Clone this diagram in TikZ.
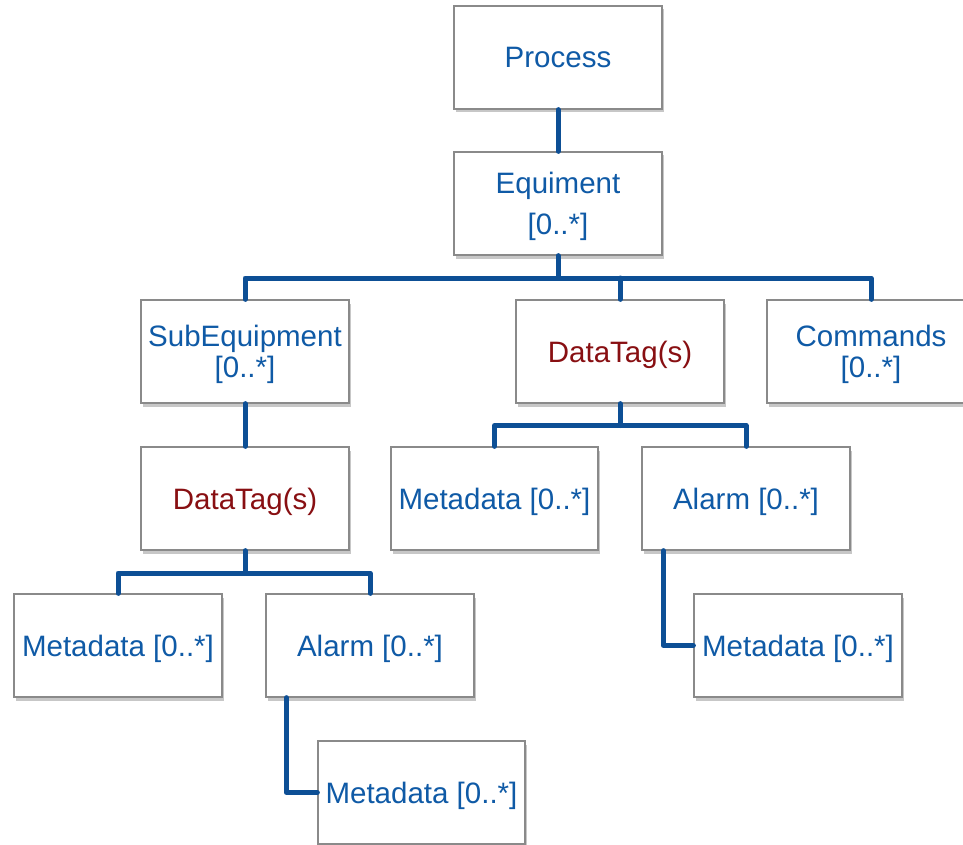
\documentclass[tikz,border=0pt]{standalone}
\usepackage{fontspec}
\setmainfont{Liberation Sans}
\usetikzlibrary{shadows}
\definecolor{conncol}{HTML}{0D4F95}
\definecolor{txtblue}{HTML}{0F5AA6}
\definecolor{txtred}{HTML}{880F12}
\definecolor{boxline}{HTML}{8A8A8A}
\begin{document}
\begin{tikzpicture}[x=1pt,y=-1pt,
  box/.style={draw=boxline, line width=1.3pt, fill=white, minimum width=208pt, minimum height=103pt,
    inner sep=0pt, align=center, text=txtblue, font=\fontsize{29.5}{31.5}\selectfont, text depth=0pt,
    drop shadow={shadow xshift=2pt, shadow yshift=-3.5pt, fill=black, opacity=0.22}},
  redtxt/.style={text=txtred},
  conn/.style={draw=conncol, line width=5pt, line join=round, line cap=round}]
\useasboundingbox (0,0) rectangle (963,845);
% nodes
\node[box] (proc) at (558,57.5) {Process};
\node[box, font=\fontsize{29.5}{41}\selectfont] (equip) at (558,203.5) {Equiment\\{[0..*]}};
\node[box] (sub) at (245,351.5) {SubEquipment\\{[0..*]}};
\node[box, redtxt] (dtm) at (620,351.5) {DataTag(s)};
\node[box] (cmd) at (871,351.5) {Commands\\{[0..*]}};
\node[box, redtxt] (dtl) at (245,498.5) {DataTag(s)};
\node[box, minimum width=207pt] (metam) at (494.5,498.5) {Metadata [0..*]};
\node[box] (alarmm) at (746,498.5) {Alarm [0..*]};
\node[box] (metal) at (118,645.5) {Metadata [0..*]};
\node[box] (alarml) at (370,645.5) {Alarm [0..*]};
\node[box] (metar) at (798,645.5) {Metadata [0..*]};
\node[box, minimum width=207pt] (metab) at (421.5,792.5) {Metadata [0..*]};
% connectors
\coordinate (bus1) at (0,278);
\coordinate (bus2) at (0,425.5);
\coordinate (bus3) at (0,573);
\path[conn] (proc.south) -- (equip.north);
\path[conn] (equip.south) -- (equip.south |- bus1);
\path[conn] (sub.north) -- (sub.north |- bus1) -- (cmd.north |- bus1) -- (cmd.north);
\path[conn] (dtm.north) -- (dtm.north |- bus1);
\path[conn] (sub.south) -- (dtl.north);
\path[conn] (dtm.south) -- (dtm.south |- bus2);
\path[conn] (metam.north) -- (metam.north |- bus2) -- (alarmm.north |- bus2) -- (alarmm.north);
\path[conn] (dtl.south) -- (dtl.south |- bus3);
\path[conn] (metal.north) -- (metal.north |- bus3) -- (alarml.north |- bus3) -- (alarml.north);
\coordinate (al1) at ([xshift=21pt]alarml.south west);
\path[conn] (al1) |- (metab.west);
\coordinate (am1) at ([xshift=22pt]alarmm.south west);
\path[conn] (am1) |- (metar.west);
\end{tikzpicture}
\end{document}
